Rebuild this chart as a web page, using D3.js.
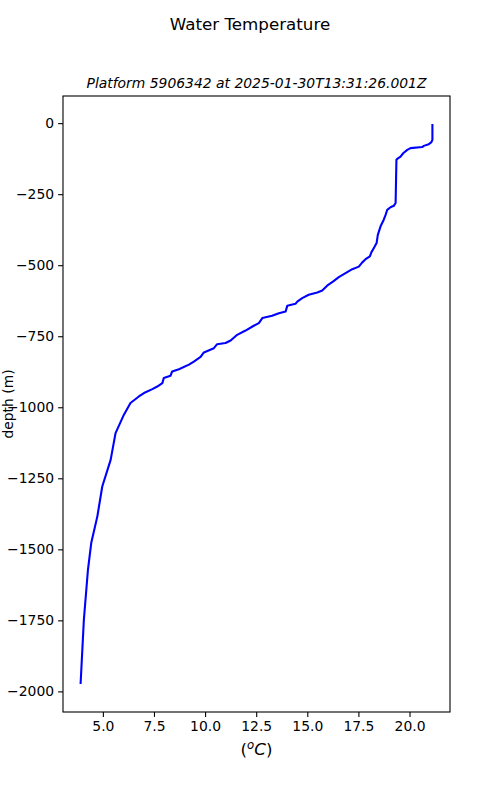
<!DOCTYPE html>
<html>
<head>
<meta charset="utf-8">
<script src="https://cdn.jsdelivr.net/npm/d3@7"></script>
<style>
  body { margin: 0; background: #fff; }
  svg { font-family: "DejaVu Sans", sans-serif; }
</style>
</head>
<body>
<svg id="chart" width="500" height="800"></svg>
<script>
// profile (deg C, metres)
const temperature = [21.12, 21.12, 21.06, 20.94, 20.70, 20.62, 20.05, 19.89, 19.69, 19.56,
  19.40, 19.36, 19.32, 19.23, 19.07, 18.91, 18.83, 18.74, 18.58, 18.45,
  18.39, 18.25, 18.14, 18.06, 17.85, 17.69, 17.52, 17.20, 16.87, 16.54,
  16.27, 15.97, 15.73, 15.49, 15.07, 14.75, 14.51, 14.42, 14.02, 13.94,
  13.61, 13.28, 12.80, 12.63, 12.38, 11.98, 11.57, 11.25, 11.00, 10.59,
  10.43, 9.94, 9.78, 9.45, 9.21, 8.72, 8.39, 8.31, 7.98, 7.91,
  7.66, 7.42, 7.01, 6.76, 6.35, 6.03, 5.62, 5.38, 4.97, 4.73,
  4.43, 4.27, 4.07, 3.91];
const depth = [-3, -59, -68, -74, -80, -84, -88, -94, -106, -118,
  -126, -129, -281, -291, -296, -305, -323, -340, -364, -393,
  -422, -440, -454, -469, -479, -490, -505, -514, -528, -542,
  -557, -572, -589, -596, -604, -616, -628, -636, -643, -663,
  -669, -678, -686, -704, -713, -730, -745, -765, -774, -778,
  -792, -807, -823, -839, -850, -866, -874, -889, -897, -915,
  -927, -936, -950, -962, -985, -1026, -1091, -1185, -1279, -1384,
  -1478, -1572, -1748, -1974];
const xTicks = [5, 7.5, 10, 12.5, 15, 17.5, 20];
const yTicks = [0, -250, -500, -750, -1000, -1250, -1500, -1750, -2000];

const svg = d3.select("#chart");
const plotLeft = 63, plotRight = 450, plotTop = 96, plotBottom = 712;

// matplotlib style 5% margins
function padded(values) {
  const [lo, hi] = d3.extent(values);
  const m = (hi - lo) * 0.05;
  return [lo - m, hi + m];
}

const x = d3.scaleLinear().domain(padded(temperature)).range([plotLeft, plotRight]);
const y = d3.scaleLinear().domain(padded(depth)).range([plotBottom, plotTop]);

const points = temperature.map((t, i) => [t, depth[i]]);

svg.append("path")
  .datum(points)
  .attr("fill", "none")
  .attr("stroke", "#0000ff")
  .attr("stroke-width", 2.1)
  .attr("stroke-linejoin", "round")
  .attr("d", d3.line().x(d => x(d[0])).y(d => y(d[1])));

const minus = s => s.replace("-", "\u2212");

const xAxis = svg.append("g")
  .attr("transform", `translate(0,${plotBottom})`)
  .call(d3.axisBottom(x).tickValues(xTicks).tickFormat(d3.format(".1f"))
    .tickSizeInner(4.9).tickSizeOuter(0).tickPadding(4));
const yAxis = svg.append("g")
  .attr("transform", `translate(${plotLeft},0)`)
  .call(d3.axisLeft(y).tickValues(yTicks).tickFormat(d => minus(String(d)))
    .tickSizeInner(4.9).tickSizeOuter(0).tickPadding(4));

[xAxis, yAxis].forEach(g => {
  g.select(".domain").remove();
  g.selectAll("line").attr("stroke", "#000").attr("stroke-width", 1.1);
  g.selectAll("text").attr("fill", "#000")
    .style("font-family", "DejaVu Sans").style("font-size", "13.9px");
});

// axes frame
svg.append("rect")
  .attr("x", plotLeft).attr("y", plotTop)
  .attr("width", plotRight - plotLeft).attr("height", plotBottom - plotTop)
  .attr("fill", "none").attr("stroke", "#000").attr("stroke-width", 1.1);

svg.append("text")
  .attr("x", 250).attr("y", 30)
  .attr("text-anchor", "middle")
  .style("font-size", "16.7px")
  .text("Water Temperature");

svg.append("text")
  .attr("x", (plotLeft + plotRight) / 2).attr("y", 88)
  .attr("text-anchor", "middle")
  .style("font-size", "13.9px").style("font-style", "italic")
  .text("Platform 5906342 at 2025-01-30T13:31:26.001Z");

// x label ($^o C$)
const xl = svg.append("text")
  .attr("x", (plotLeft + plotRight) / 2).attr("y", 755)
  .attr("text-anchor", "middle")
  .style("font-size", "16.7px");
xl.append("tspan").text("(");
xl.append("tspan").style("font-style", "italic").style("font-size", "11.7px")
  .attr("dy", -6).text("o");
xl.append("tspan").style("font-style", "italic").attr("dy", 6).text("C");
xl.append("tspan").text(")");

svg.append("text")
  .attr("transform", `translate(13,${(plotTop + plotBottom) / 2}) rotate(-90)`)
  .attr("text-anchor", "middle")
  .style("font-size", "13.9px")
  .text("depth (m)");
</script>
</body>
</html>
